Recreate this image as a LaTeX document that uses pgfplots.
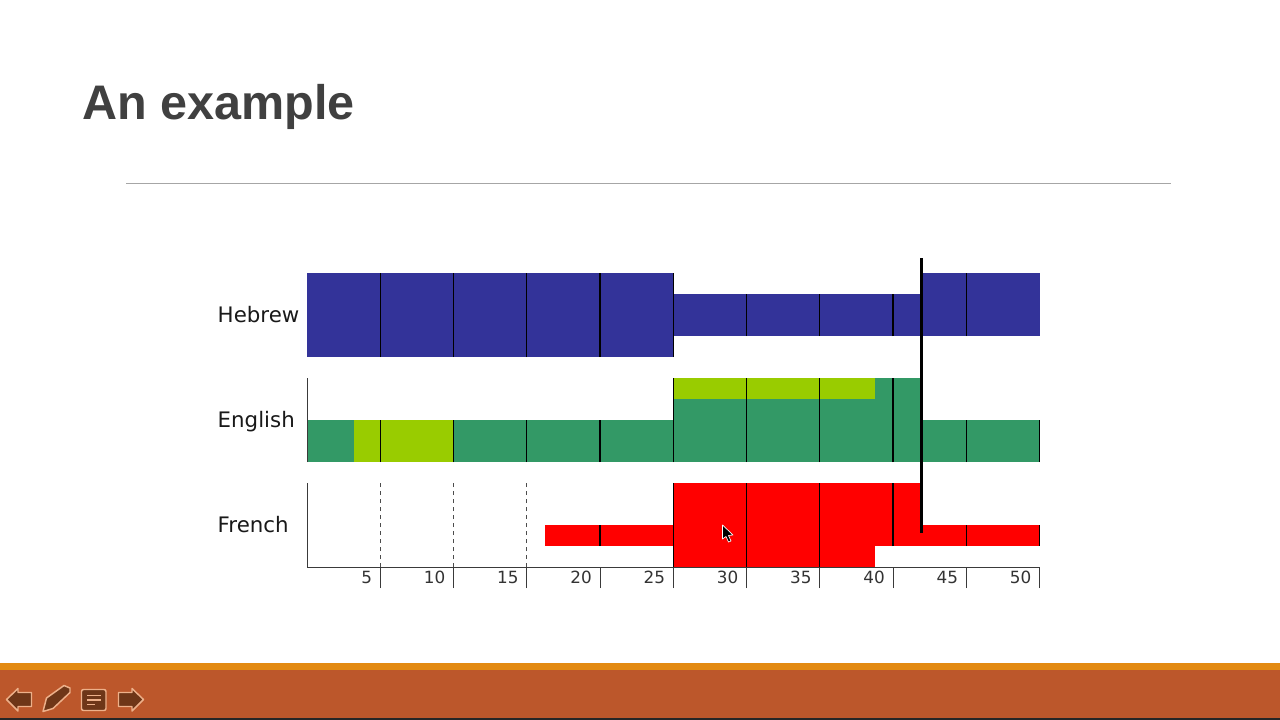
\documentclass[border=0pt]{standalone}
\usepackage{pgfplots}
\pgfplotsset{compat=1.18}
\usepackage{fontspec}
\setmainfont{DejaVu Sans}
\newfontfamily\titlefont{Liberation Sans}
\definecolor{heb}{HTML}{333399}
\definecolor{eng}{HTML}{339966}
\definecolor{lime}{HTML}{99CC00}
\definecolor{fre}{HTML}{FF0000}
\definecolor{rust}{HTML}{BC572B}
\definecolor{band}{HTML}{E38A12}
\definecolor{icon}{HTML}{6E3618}
\definecolor{iconedge}{HTML}{EDB08A}
\definecolor{axisgray}{HTML}{3A3A3A}
\begin{document}
\begin{tikzpicture}[x=0.75pt,y=-0.75pt]
\useasboundingbox (0,0) rectangle (1280,720);
\fill[white] (0,0) rectangle (1280,720);
\coordinate (org) at (307,567);
% slide furniture
\node[anchor=base west,inner sep=0pt,text=black!75,font=\titlefont\bfseries\fontsize{36.4}{40}\selectfont] at (82,120) {An example};
\draw[black!35,line width=0.75pt] (126,183.3) -- (1171,183.3);
\fill[rust] (0,669) rectangle (1280,718);
\fill[band] (0,663) rectangle (1280,670);
\fill[black!85] (0,718) rectangle (1280,720);
\begin{scope}[fill=icon,draw=iconedge,line width=1.1pt,line join=round]
\filldraw (6.5,699.5) -- (18,688.5) -- (18,692.5) -- (31.5,692.5) -- (31.5,706.5) -- (18,706.5) -- (18,711) -- cycle;
\filldraw (43,711.5) -- (46.5,698) -- (64,685.5) -- (70,688) -- (70,692.5) -- (53,708.5) -- cycle;
\filldraw[rounded corners=1.5pt] (81.5,689.5) rectangle (106,710.5);
\draw[iconedge,line width=1.1pt] (87,695.5) -- (100.5,695.5) (87,700) -- (100.5,700) (87,704.5) -- (95,704.5);
\filldraw (143.5,699.5) -- (132,688.5) -- (132,692.5) -- (118.5,692.5) -- (118.5,706.5) -- (132,706.5) -- (132,711) -- cycle;
\end{scope}
\begin{axis}[
  at={(org)},anchor=south west,
  scale only axis,width=549.4pt,height=220.5pt,
  xmin=0,xmax=50,ymin=0,ymax=14,
  clip=false,
  axis x line=bottom,axis y line=left,
  axis line style={-,draw=axisgray,line width=0.75pt},
  y axis line style={draw=none},
  xtick={5,10,...,50},
  ytick={2,7,12},
  yticklabels={French,English,Hebrew},
  tick align=outside,
  major tick length=15.75pt,
  /pgf/number format/assume math mode=true,
  xtick style={draw=axisgray,line width=0.75pt},
  ytick style={draw=none},
  xticklabel style={anchor=east,inner sep=0pt,yshift=8.25pt,xshift=-6pt,font=\fontsize{12.6}{14}\selectfont,text=black!80},
  yticklabel style={anchor=east,inner sep=0pt,text width=60pt,text height=12pt,text depth=3.5pt,align=left,xshift=9pt,yshift=-1.5pt,font=\fontsize{16}{18}\selectfont,text=black!90},
]
% Hebrew
\addplot[fill=heb,draw=none] coordinates {(0,10)(25,10)(25,14)(0,14)} --cycle;
\addplot[fill=heb,draw=none] coordinates {(25,11)(41.95,11)(41.95,13)(25,13)} --cycle;
\addplot[fill=heb,draw=none] coordinates {(41.95,11)(50,11)(50,14)(41.95,14)} --cycle;
% English
\addplot[fill=eng,draw=none] coordinates {(0,5)(25,5)(25,7)(0,7)} --cycle;
\addplot[fill=lime,draw=none] coordinates {(3.2,5)(10,5)(10,7)(3.2,7)} --cycle;
\addplot[fill=eng,draw=none] coordinates {(25,5)(41.95,5)(41.95,9)(25,9)} --cycle;
\addplot[fill=lime,draw=none] coordinates {(25,8)(38.8,8)(38.8,9)(25,9)} --cycle;
\addplot[fill=eng,draw=none] coordinates {(41.95,5)(50,5)(50,7)(41.95,7)} --cycle;
% French
\addplot[fill=fre,draw=none] coordinates {(16.25,1)(25,1)(25,2)(16.25,2)} --cycle;
\addplot[fill=fre,draw=none] coordinates {(25,0)(38.8,0)(38.8,4)(25,4)} --cycle;
\addplot[fill=fre,draw=none] coordinates {(38.8,1)(41.95,1)(41.95,4)(38.8,4)} --cycle;
\addplot[fill=fre,draw=none] coordinates {(41.95,1)(50,1)(50,2)(41.95,2)} --cycle;
% left axis pieces
\addplot[axisgray,line width=0.75pt] coordinates {(0,5)(0,9)};
\addplot[axisgray,line width=0.75pt] coordinates {(0,0)(0,4)};
% five-unit lines inside the bars
\pgfplotsset{tl/.style={black,line width=0.85pt,forget plot}}
\addplot[tl] coordinates {(5,10)(5,14)};
\addplot[tl] coordinates {(10,10)(10,14)};
\addplot[tl] coordinates {(15,10)(15,14)};
\addplot[tl] coordinates {(20,10)(20,14)};
\addplot[tl] coordinates {(25,10)(25,14)};
\addplot[tl] coordinates {(30,11)(30,13)};
\addplot[tl] coordinates {(35,11)(35,13)};
\addplot[tl] coordinates {(40,11)(40,13)};
\addplot[tl] coordinates {(45,11)(45,14)};
\addplot[tl] coordinates {(5,5)(5,7)};
\addplot[tl] coordinates {(10,5)(10,7)};
\addplot[tl] coordinates {(15,5)(15,7)};
\addplot[tl] coordinates {(20,5)(20,7)};
\addplot[tl] coordinates {(25,5)(25,9)};
\addplot[tl] coordinates {(30,5)(30,9)};
\addplot[tl] coordinates {(35,5)(35,9)};
\addplot[tl] coordinates {(40,5)(40,9)};
\addplot[tl] coordinates {(45,5)(45,7)};
\addplot[tl] coordinates {(50,5)(50,7)};
\addplot[tl,dashed,black!70] coordinates {(5,0)(5,4)};
\addplot[tl,dashed,black!70] coordinates {(10,0)(10,4)};
\addplot[tl,dashed,black!70] coordinates {(15,0)(15,4)};
\addplot[tl] coordinates {(20,1)(20,2)};
\addplot[tl] coordinates {(25,0)(25,4)};
\addplot[tl] coordinates {(30,0)(30,4)};
\addplot[tl] coordinates {(35,0)(35,4)};
\addplot[tl] coordinates {(40,1)(40,4)};
\addplot[tl] coordinates {(45,1)(45,2)};
\addplot[tl] coordinates {(50,1)(50,2)};
% playhead
\addplot[black,line width=2.2pt] coordinates {(41.95,14.7)(41.95,1.6)};
\end{axis}
% mouse pointer
\filldraw[black,draw=white,line width=0.5pt,line join=round] (722.5,525) -- (722.5,539) -- (726,536.5) -- (728.5,542) -- (731,541) -- (728.5,535.5) -- (733,535) -- cycle;
\end{tikzpicture}
\end{document}
